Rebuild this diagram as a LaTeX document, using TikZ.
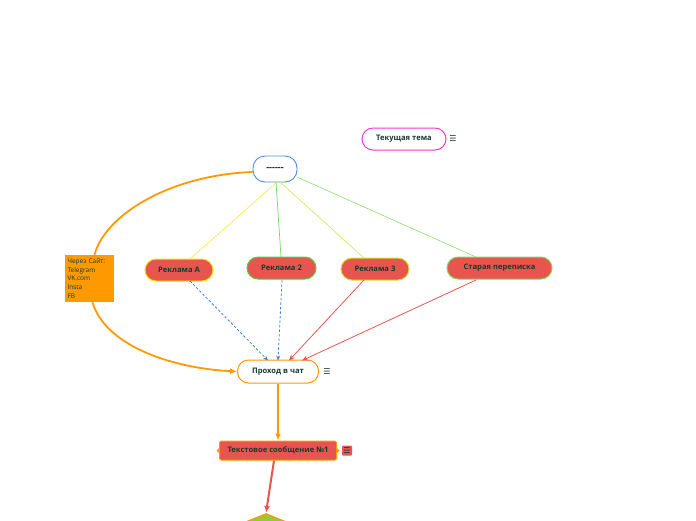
\documentclass[tikz,border=0pt]{standalone}
\usepackage{fontspec}
\setmainfont{Open Sans}
\newfontfamily\dejavu{DejaVu Sans}
\usetikzlibrary{arrows.meta,shapes.geometric}
\definecolor{txt}{HTML}{173A30}
\definecolor{navy}{HTML}{14224A}
\definecolor{redf}{HTML}{E8554E}
\definecolor{orng}{HTML}{FF9900}
\definecolor{magn}{HTML}{FF33CC}
\definecolor{blueb}{HTML}{4A90D9}
\definecolor{blued}{HTML}{3B82D6}
\definecolor{yelb}{HTML}{F2E600}
\definecolor{grnb}{HTML}{4CD137}
\definecolor{ygrb}{HTML}{C5E33A}
\definecolor{lgrb}{HTML}{7ED957}
\definecolor{dgreen}{HTML}{9CC63A}
\tikzset{
  pill/.style={draw, rounded corners=11pt, minimum height=22pt, inner xsep=6pt, font=\fontsize{7.6}{9}\selectfont\bfseries, text=txt},
  redpill/.style={pill, fill=redf, line width=1pt},
  thinline/.style={line width=0.7pt},
  dashblue/.style={draw=blued, line width=0.8pt, dashed, dash pattern=on 2.5pt off 2pt, -{Stealth[length=5pt,width=4pt]}},
  redarrow/.style={draw=redf, line width=0.8pt, -{Stealth[length=6pt,width=5pt]}},
  thickarrow/.style={line width=2pt, -{Latex[length=7pt,width=6pt]}},
  menuicon/.style={font=\dejavu\fontsize{8}{8}\selectfont, text=txt, inner sep=0pt},
}
\begin{document}
\begin{tikzpicture}[x=1pt,y=-1pt]
\useasboundingbox (0,0) rectangle (696,520);
% nodes
\node[pill, draw=blueb, fill=white, line width=0.9pt, minimum width=44pt, minimum height=26pt, rounded corners=12pt, text=navy, font=\fontsize{9}{10}\selectfont\bfseries] (top) at (275,169) {-{}-{}-{}-{}-{}-};
\node[pill, draw=magn, fill=white, line width=1pt, minimum width=84pt] (cur) at (404,139) {Текущая тема};
\node[menuicon] (curm) at (453,139) {☰};
\node[fill=orng, inner sep=2.5pt, align=left, font=\fontsize{6.5}{8.7}\selectfont, text=txt, minimum width=49pt, minimum height=47pt, text width=44pt] (note) at (89.5,278.5) {Через Сайт:\\Telegram\\VK.com\\Insta\\FB};
\node[redpill, draw=yelb, minimum width=68pt] (ra) at (179,270) {Реклама А};
\node[redpill, draw=grnb, minimum width=69pt] (r2) at (281.5,268) {Реклама 2};
\node[redpill, draw=ygrb, minimum width=68pt] (r3) at (375,269) {Реклама 3};
\node[redpill, draw=lgrb, minimum width=105pt] (old) at (499.5,268) {Старая переписка};
\node[pill, draw=orng, fill=white, line width=1pt, minimum width=81pt, minimum height=23pt] (chat) at (278,371.5) {Проход в чат};
\node[menuicon] (chatm) at (327,371.5) {☰};
\node[draw=orng, fill=redf, line width=1pt, rounded corners=1.5pt, minimum width=117pt, minimum height=19pt, inner sep=2pt, font=\fontsize{7.6}{9}\selectfont\bfseries, text=txt] (msg) at (278,450.5) {Текстовое сообщение №1};
\fill[orng] (msg.west) ++(0,-2.5) -- ++(-2.5,2.5) -- ++(2.5,2.5) -- cycle;
\fill[orng] (msg.east) ++(0,-2.5) -- ++(2.5,2.5) -- ++(-2.5,2.5) -- cycle;
\node[fill=redf, rounded corners=1pt, minimum width=10pt, minimum height=10pt, inner sep=0pt] (msgbox) at (347,450.5) {};
\node[menuicon] (msgm) at (msgbox) {☰};
\node[diamond, draw=orng, fill=dgreen, line width=1pt, minimum width=64pt, minimum height=26pt, inner sep=0pt] (dia) at (266,526.5) {};
% thin connectors from top
\draw[thinline, draw=yelb!70!white] (277,182) -- (190,259);
\draw[thinline, draw=grnb!80!white] (276,182) -- (281,257);
\draw[thinline, draw=ygrb!80!white] (280,182) -- (364,258);
\draw[thinline, draw=lgrb!80!white] (297,177) -- (476,257);
% arrows to chat
\draw[dashblue] (190,281) -- (268,360.5);
\draw[dashblue] (282,280) -- (278,360.5);
\draw[redarrow] (364,280) -- (289,360.5);
\draw[redarrow] (476,280) -- (302,360.5);
% orange curve
\draw[orng, line width=1.8pt] (top.west) ++(0,3) .. controls (170,175) and (105,215) .. ([xshift=5pt]note.north);
\draw[orng, line width=1.8pt, -{Latex[length=7pt,width=6pt]}] ([xshift=3pt]note.south) .. controls (105,345) and (170,368) .. (chat.west);
% vertical
\draw[draw=orng, thickarrow] (chat.south) -- (msg.north);
\draw[draw=redf, thickarrow] ([xshift=-4pt]msg.south) -- (dia.north);
\end{tikzpicture}
\end{document}
